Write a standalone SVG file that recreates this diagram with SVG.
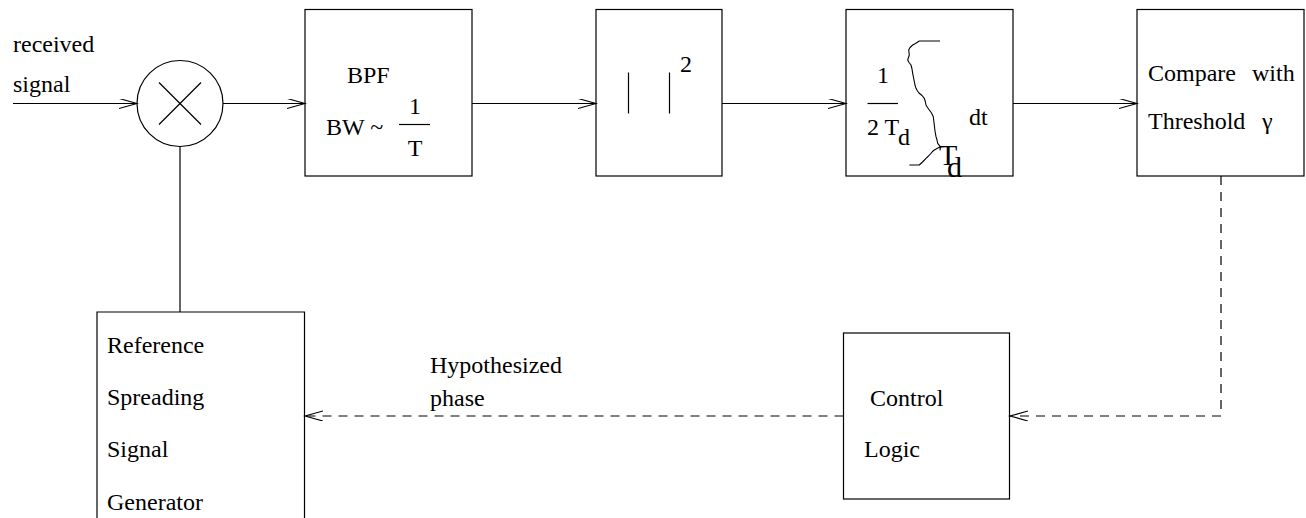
<svg xmlns="http://www.w3.org/2000/svg" width="1306" height="518" viewBox="0 0 1306 518">
  <style>
    .box { fill: none; stroke: #000; stroke-width: 1.2; }
    .wire { fill: none; stroke: #000; stroke-width: 1.2; }
    .sketch { fill: none; stroke: #000; stroke-width: 1.1; stroke-linejoin: round; }
    .dash { fill: none; stroke: #000; stroke-width: 1.2; stroke-dasharray: 9 7; }
    text { font-family: "Liberation Serif", "Times New Roman", serif; font-size: 24px; fill: #000; }
    .mid { text-anchor: middle; }
    .big { font-size: 30px; }
  </style>
  <defs>
    <marker id="arrow" markerUnits="userSpaceOnUse" markerWidth="20" markerHeight="12" refX="18" refY="5" orient="auto">
      <path d="M0,0 L18,5 L0,10" fill="none" stroke="#000" stroke-width="1.2"/>
    </marker>
  </defs>

  <!-- signal path connectors -->
  <g id="connectors">
    <line class="wire" x1="13" y1="103.5" x2="137" y2="103.5" marker-end="url(#arrow)"/>
    <line class="wire" x1="223" y1="103.5" x2="305" y2="103.5" marker-end="url(#arrow)"/>
    <line class="wire" x1="472" y1="103.5" x2="596" y2="103.5" marker-end="url(#arrow)"/>
    <line class="wire" x1="722" y1="103.5" x2="846" y2="103.5" marker-end="url(#arrow)"/>
    <line class="wire" x1="1013" y1="103.5" x2="1137" y2="103.5" marker-end="url(#arrow)"/>
    <line class="wire" x1="180" y1="146.5" x2="180" y2="312"/>
    <polyline class="dash" points="1221,176 1221,416 1010,416" marker-end="url(#arrow)"/>
    <line class="dash" x1="843.5" y1="416" x2="305" y2="416" marker-end="url(#arrow)"/>
  </g>

  <!-- input label -->
  <g id="input-label">
    <text x="13" y="52">received</text>
    <text x="13" y="92">signal</text>
  </g>

  <!-- multiplier -->
  <g id="mixer">
    <circle class="box" cx="180" cy="103.5" r="43"/>
    <line class="wire" x1="159" y1="82.5" x2="201" y2="124.5"/>
    <line class="wire" x1="201" y1="82.5" x2="159" y2="124.5"/>
  </g>

  <!-- band-pass filter -->
  <g id="bpf">
    <rect class="box" x="305" y="9.5" width="167" height="166.5"/>
    <text x="347" y="83">BPF</text>
    <text x="326" y="135">BW ~</text>
    <text class="mid" x="415" y="114">1</text>
    <line class="wire" x1="399" y1="124.5" x2="430" y2="124.5"/>
    <text class="mid" x="415" y="156">T</text>
  </g>

  <!-- square-law detector -->
  <g id="square">
    <rect class="box" x="596" y="9.5" width="126" height="166.5"/>
    <line class="wire" x1="628.5" y1="72.5" x2="628.5" y2="113.5"/>
    <line class="wire" x1="669.5" y1="72.5" x2="669.5" y2="113.5"/>
    <text x="680" y="72">2</text>
  </g>

  <!-- integrator -->
  <g id="integrator">
    <rect class="box" x="846" y="9.5" width="167" height="166.5"/>
    <text class="mid" x="883" y="83">1</text>
    <line class="wire" x1="867.5" y1="103.5" x2="898" y2="103.5"/>
    <text x="867" y="135">2 T</text>
    <text x="898" y="145">d</text>
    <!-- hand-drawn integral sign -->
    <polyline class="sketch" points="940,41 919.3,41 915.5,43.5 912.7,45 910,47.5 908.7,50 909.3,55 907.7,60 909,62.5 911,65 912,69 912.7,73.3 913.5,77.5 914.3,81.7 915,85 916,88.3 917.5,91 919.3,93.3 922,95.5 924.3,98.3 925.3,101.5 926,105 927.5,107.5 929.3,110 931.5,113 933.3,116.7 933.8,121 934.3,125 935,131 936,136.7 937,140 937.7,143.3 940.3,146.7 937,148.5 934.3,150 932.5,151.5 931,153.3 928.5,156 926,158.3 923,161.5 919.3,165 909.3,165"/>
    <text x="969" y="125">dt</text>
    <text class="big" x="939" y="165">T</text>
    <text class="big" x="947" y="177">d</text>
  </g>

  <!-- threshold comparator -->
  <g id="compare">
    <rect class="box" x="1137" y="9.5" width="167" height="166.5"/>
    <text x="1148" y="81">Compare<tspan x="1252">with</tspan></text>
    <text x="1148" y="129">Threshold<tspan x="1262">γ</tspan></text>
  </g>

  <!-- control logic -->
  <g id="control-logic">
    <rect class="box" x="843.5" y="333" width="166" height="166"/>
    <text x="870" y="406">Control</text>
    <text x="864" y="457">Logic</text>
  </g>

  <!-- feedback label -->
  <g id="phase-label">
    <text x="430" y="373">Hypothesized</text>
    <text x="430" y="406">phase</text>
  </g>

  <!-- reference generator -->
  <g id="reference-generator">
    <path class="box" d="M97,530 L97,312 L304.5,312 L304.5,530"/>
    <text x="107" y="353">Reference</text>
    <text x="107" y="405">Spreading</text>
    <text x="107" y="457">Signal</text>
    <text x="107" y="510">Generator</text>
  </g>
</svg>
